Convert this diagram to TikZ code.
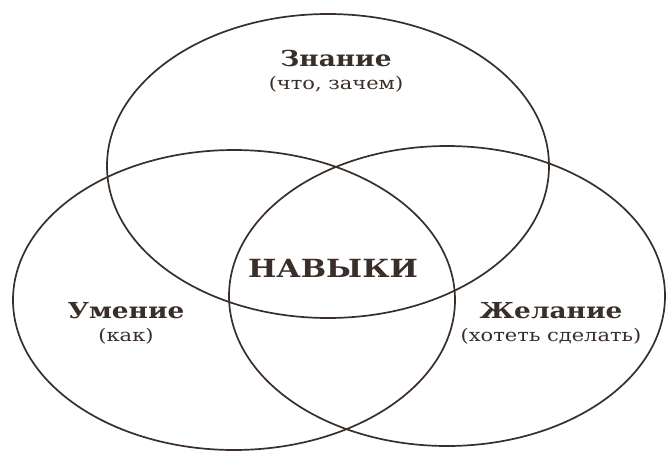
\documentclass[tikz,border=0pt]{standalone}
\usepackage{fontspec}
\setmainfont{DejaVu Serif}[FakeStretch=1.2]
\usetikzlibrary{positioning}

\definecolor{inkbrown}{HTML}{3A2E28}

\begin{document}
\begin{tikzpicture}[
    x=1pt, y=-1pt,
    ring/.style={draw=inkbrown, line width=1.7pt},
    title/.style={text=inkbrown, font=\bfseries\fontsize{22}{26}\selectfont, inner sep=1pt},
    hint/.style={text=inkbrown, font=\fontsize{17.5}{21}\selectfont, inner sep=1pt},
    core/.style={text=inkbrown, font=\bfseries\fontsize{25}{30}\selectfont, inner sep=1pt}
]
\useasboundingbox[fill=white] (0,0) rectangle (668,453);

% Centres
\coordinate (c_know) at (328,166);
\coordinate (c_skill) at (234,300);
\coordinate (c_want) at (447,296);

% Ellipses
\draw[ring] (c_know) ellipse [x radius=221, y radius=152];
\draw[ring] (c_skill) ellipse [x radius=221, y radius=150];
\draw[ring] (c_want) ellipse [x radius=218, y radius=150];

% Labels
\node[title] (know) at (336,58) {Знание};
\node[hint, below=7pt of know] (know_sub) {(что, зачем)};

\node[core] (habits) at (333,268) {НАВЫКИ};

\node[title] (skill) at (126,311) {Умение};
\node[hint, below=7pt of skill] (skill_sub) {(как)};

\node[title] (want) at (551,311) {Желание};
\node[hint, below=7pt of want] (want_sub) {(хотеть сделать)};

\end{tikzpicture}
\end{document}
